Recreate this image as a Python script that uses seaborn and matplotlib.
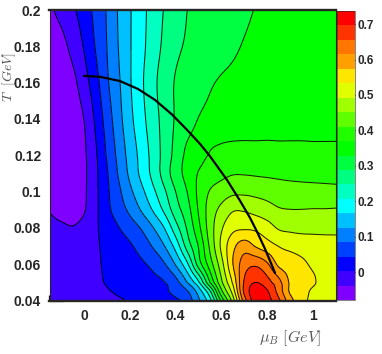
import numpy as np
import pandas as pd
import seaborn as sns
import matplotlib
matplotlib.use("Agg")
import matplotlib.pyplot as plt
from matplotlib.colors import ListedColormap, BoundaryNorm

# values
mu_b = [-0.15, -0.10, -0.05, 0.0, 0.05, 0.10, 0.15, 0.20, 0.25, 0.30, 0.35, 0.40, 0.45,
        0.50, 0.55, 0.60, 0.65, 0.70, 0.75, 0.80, 0.85, 0.90, 0.95, 1.0, 1.05, 1.10]
temp = [0.04, 0.045, 0.05, 0.06, 0.07, 0.08, 0.09, 0.10, 0.11, 0.12, 0.14, 0.16, 0.18, 0.20]

row_040 = [-.010, -.012, -.015, -.018, -.018, -.012, -.003, .006, .012, .020, .028, .036, .060,
           .116, .190, .340, .470, .635, .718, .710, .664, .590, .545, .525, .515, .510]
row_045 = [-.011, -.011, -.012, -.012, -.010, -.001, .008, .015, .022, .029, .036, .056, .080,
           .142, .240, .400, .510, .665, .715, .700, .640, .568, .548, .527, .518, .514]
row_050 = [-.012, -.012, -.012, -.010, -.004, .005, .012, .019, .026, .033, .042, .070, .125,
           .200, .329, .443, .540, .660, .696, .670, .628, .568, .551, .537, .522, .518]
row_060 = [-.015, -.016, -.016, -.012, -.003, .008, .017, .027, .037, .053, .080, .128, .197,
           .306, .390, .476, .573, .635, .648, .620, .565, .552, .540, .528, .522, .519]
row_070 = [-.018, -.020, -.020, -.015, -.003, .012, .024, .038, .059, .087, .123, .180, .263,
           .331, .418, .500, .562, .595, .570, .550, .532, .523, .518, .516, .514, .513]
row_080 = [-.025, -.030, -.036, -.025, -.003, .019, .041, .063, .087, .122, .165, .230, .292,
           .358, .430, .487, .522, .527, .525, .510, .488, .483, .480, .479, .478, .478]
row_090 = [-.041, -.055, -.058, -.042, -.007, .032, .063, .093, .128, .168, .214, .269, .312,
           .373, .428, .462, .488, .488, .478, .467, .455, .452, .452, .453, .453, .454]
row_100 = [-.068, -.068, -.062, -.045, -.007, .035, .074, .115, .154, .196, .240, .288, .329,
           .378, .413, .430, .442, .443, .440, .436, .430, .427, .425, .424, .423, .422]
row_110 = [-.070, -.070, -.065, -.046, -.007, .039, .087, .133, .175, .217, .263, .309, .342,
           .372, .388, .400, .408, .408, .406, .404, .402, .400, .399, .398, .397, .396]
row_120 = [-.072, -.072, -.065, -.045, -.004, .047, .095, .140, .179, .220, .261, .301, .338,
           .353, .373, .381, .384, .384, .383, .383, .382, .382, .382, .381, .381, .381]
row_140 = [-.072, -.070, -.062, -.038, .009, .061, .109, .154, .192, .229, .261, .292, .312,
           .330, .340, .345, .348, .350, .351, .352, .352, .352, .352, .352, .352, .352]
row_160 = [-.070, -.064, -.050, -.015, .027, .077, .118, .161, .199, .235, .266, .291, .302,
           .313, .325, .333, .337, .340, .342, .344, .345, .346, .347, .347, .348, .348]
row_180 = [-.065, -.052, -.026, .005, .045, .084, .125, .162, .194, .227, .255, .280, .292,
           .299, .307, .315, .324, .331, .335, .338, .340, .342, .343, .344, .345, .346]
row_200 = [-.046, -.025, -.004, .022, .054, .087, .128, .162, .192, .223, .249, .269, .288,
           .295, .302, .308, .317, .324, .330, .333, .336, .338, .340, .342, .344, .345]

curve_mu = [0.0, 0.07, 0.157, 0.236, 0.31, 0.384, 0.45, 0.507, 0.55, 0.624, 0.681, 0.725, 0.755, 0.79, 0.834]
curve_t = [.1637, .1632, .1609, .1565, .1505, .1425, .134, .1262, .1195, .1065, .095, .0855, .078, .0685, .0552]

band_colors = ['#8000ff', '#4000ff', '#0000ff', '#0040ff', '#0080ff', '#00c0ff', '#00ffff',
               '#00ffc0', '#00ff80', '#00ff40', '#00ff00', '#20ff00', '#60ff00', '#a0ff00',
               '#e0ff00', '#ffe600', '#ffa000', '#ff7700', '#ff3300', '#ff0000']


def smooth_axis(a, n, axis):
    # catmull-rom between the table rows, only to get round contour lines
    a = np.moveaxis(a, axis, 0)
    p = np.concatenate([2 * a[:1] - a[1:2], a, 2 * a[-1:] - a[-2:-1]])
    out = []
    for i in range(1, len(p) - 2):
        for t in np.arange(n) / n:
            out.append(0.5 * (2 * p[i] + (p[i + 1] - p[i - 1]) * t
                              + (2 * p[i - 1] - 5 * p[i] + 4 * p[i + 1] - p[i + 2]) * t ** 2
                              + (3 * p[i] - p[i - 1] - 3 * p[i + 1] + p[i + 2]) * t ** 3))
    out.append(p[-2])
    return np.moveaxis(np.array(out), 0, axis)


sns.set_style("ticks")
plt.rcParams['font.family'] = ['Liberation Sans Narrow', 'Liberation Sans', 'DejaVu Sans']
plt.rcParams['mathtext.fontset'] = 'cm'

z = np.array([row_040, row_045, row_050, row_060, row_070, row_080, row_090,
              row_100, row_110, row_120, row_140, row_160, row_180, row_200])
n_up = 6
z_fine = smooth_axis(smooth_axis(z, n_up, 0), n_up, 1)
z_fine = np.clip(z_fine, -0.078, 0.736)
mu_fine = np.interp(np.arange(z_fine.shape[1]) / n_up, np.arange(len(mu_b)), mu_b)
t_fine = np.interp(np.arange(z_fine.shape[0]) / n_up, np.arange(len(temp)), temp)

levels = np.linspace(-0.079, 0.737, 21)
cmap = ListedColormap(band_colors)
norm = BoundaryNorm(levels, cmap.N)

W, H = 382.0, 354.0
fig = plt.figure(figsize=(W / 100, H / 100), dpi=100)
ax = fig.add_axes([49.5 / W, 1 - 300.5 / H, 286.5 / W, 290.5 / H])
cax = fig.add_axes([337 / W, 1 - 300 / H, 18 / W, 289 / H])

cf = ax.contourf(mu_fine, t_fine, z_fine, levels=levels, cmap=cmap, norm=norm)
ax.contour(mu_fine, t_fine, z_fine, levels=levels[1:-1], colors='black',
           linewidths=0.75, linestyles='solid', alpha=0.85)

df = pd.DataFrame({'mu': curve_mu, 'T': curve_t})
sns.lineplot(data=df, x='mu', y='T', sort=False, color='black', linewidth=1.6, ax=ax, legend=False)
ax.set_xlabel('')
ax.set_ylabel('')

ax.set_xlim(-0.15, 1.1)
ax.set_ylim(0.04, 0.2)
ax.set_xticks([0, 0.2, 0.4, 0.6, 0.8, 1])
ax.set_xticklabels(['0', '0.2', '0.4', '0.6', '0.8', '1'], fontweight='bold', fontsize=10)
ax.set_yticks([0.04, 0.06, 0.08, 0.1, 0.12, 0.14, 0.16, 0.18, 0.2])
ax.set_yticklabels(['0.04', '0.06', '0.08', '0.1', '0.12', '0.14', '0.16', '0.18', '0.2'],
                   fontweight='bold', fontsize=10)
ax.set_xticks(np.arange(-0.15, 1.1, 0.05), minor=True)
ax.set_yticks(np.arange(0.04, 0.2, 0.005), minor=True)
ax.tick_params(which='major', direction='in', length=9, width=0.9, color='#111111', pad=6)
ax.tick_params(which='minor', direction='in', length=4.5, width=0.9, color='#111111')
ax.grid(which='minor', color='white', alpha=0.13, linewidth=0.6)
for side in ['left', 'right']:
    ax.spines[side].set_linewidth(0.8)
for side in ['top', 'bottom']:
    ax.spines[side].set_linewidth(1.7)

cb = fig.colorbar(cf, cax=cax, ticks=[0, 0.1, 0.2, 0.3, 0.4, 0.5, 0.6, 0.7], spacing='proportional')
cb.ax.set_yticklabels(['0', '0.1', '0.2', '0.3', '0.4', '0.5', '0.6', '0.7'], fontweight='bold', fontsize=8.5)
cb.ax.tick_params(direction='in', length=7, width=0.9, color='#111111', pad=2)
cb.ax.minorticks_off()
cb.outline.set_linewidth(0.4)
cb.dividers.set_visible(False)

fig.text(9 / W, 1 - 77 / H, r'$T\ \ [GeV]$', rotation=90, ha='center', va='center',
         color='#555555', fontsize=10)
fig.text(290 / W, 1 - 338 / H, r'$\mu_B\ [GeV]$', ha='center', va='center',
         color='#555555', fontsize=11.5)

fig.savefig('out.png', dpi=100)
